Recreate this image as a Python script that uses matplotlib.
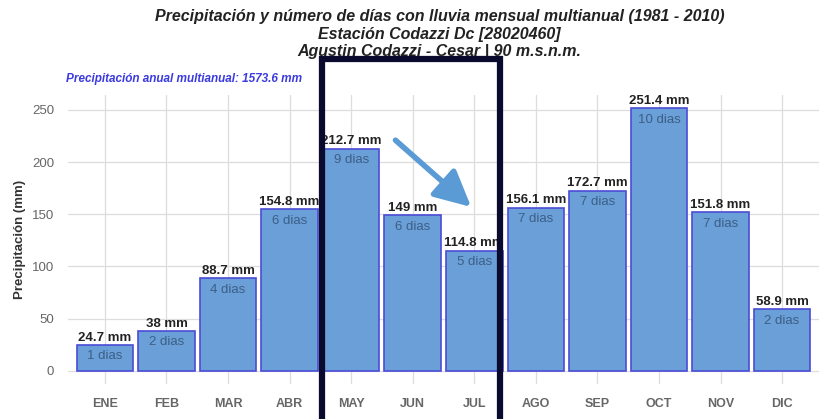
import matplotlib
matplotlib.use("Agg")
import matplotlib.pyplot as plt
from matplotlib.patches import Rectangle
import matplotlib.transforms as mtransforms

meses = ["ENE", "FEB", "MAR", "ABR", "MAY", "JUN", "JUL", "AGO", "SEP", "OCT", "NOV", "DIC"]
precip = [24.7, 38, 88.7, 154.8, 212.7, 149, 114.8, 156.1, 172.7, 251.4, 151.8, 58.9]
dias = [1, 2, 4, 6, 9, 6, 5, 7, 7, 10, 7, 2]
anual = 1573.6

plt.rcParams['font.family'] = ['Liberation Sans', 'DejaVu Sans']

fig = plt.figure(figsize=(8.19, 4.19), dpi=100)
ax = fig.add_axes([0.083, 0.0835, 0.917, 0.689])

x = list(range(1, len(meses) + 1))
ax.bar(x, precip, width=0.92, color="#6a9fd8", edgecolor="#4b4bd6", linewidth=1.2, zorder=2)

for xi, p, d in zip(x, precip, dias):
    ax.text(xi, p + 1.5, f"{p:g} mm", ha="center", va="bottom", fontsize=9.5,
            fontweight="bold", color="#222222", zorder=4)
    ax.text(xi, p - 5, f"{d} dias", ha="center", va="top", fontsize=9.5,
            color="#3d5f86", zorder=4)

ax.set_xlim(0.4, 12.6)
ax.set_ylim(-12.6, 264)
ax.set_xticks(x)
ax.set_xticklabels(meses, fontweight="bold", color="#666666", fontsize=9)
ax.set_yticks([0, 50, 100, 150, 200, 250])
ax.tick_params(axis="y", labelcolor="#666666", labelsize=9.5, length=0, pad=10)
ax.tick_params(axis="x", length=0, pad=10)
ax.grid(True, color="#dddddd", linewidth=0.9, zorder=0)
ax.set_axisbelow(True)
for s in ax.spines.values():
    s.set_visible(False)
ax.set_ylabel("Precipitación (mm)", fontweight="bold", fontsize=9.5, color="#333333", labelpad=4)

fig.text(0.537, 0.96, "Precipitación y número de días con lluvia mensual multianual (1981 - 2010)",
         ha="center", va="center", fontsize=11.5, fontweight="bold", style="italic", color="#222222")
fig.text(0.537, 0.917, "Estación Codazzi Dc [28020460]",
         ha="center", va="center", fontsize=11.5, fontweight="bold", style="italic", color="#222222")
fig.text(0.537, 0.878, "Agustin Codazzi - Cesar | 90 m.s.n.m.",
         ha="center", va="center", fontsize=11.5, fontweight="bold", style="italic", color="#222222")
fig.text(0.081, 0.812, f"Precipitación anual multianual: {anual} mm",
         ha="left", va="center", fontsize=8.5, fontweight="bold", style="italic", color="#3a3ae0")

# highlight box around MAY-JUL and arrow
trans = mtransforms.blended_transform_factory(ax.transData, fig.transFigure)
box = Rectangle((4.53, -0.1), 7.42 - 4.53, 0.958, transform=trans, fill=False,
                edgecolor="#0a0a2e", linewidth=4.5, clip_on=False, zorder=10)
fig.add_artist(box)
ax.annotate("", xy=(6.95, 157), xytext=(5.72, 221),
            arrowprops=dict(arrowstyle="-|>,head_length=2.2,head_width=1.1", color="#5b9bd5",
                            lw=4, shrinkA=0, shrinkB=0), zorder=9)

fig.savefig("out.png", dpi=100)
